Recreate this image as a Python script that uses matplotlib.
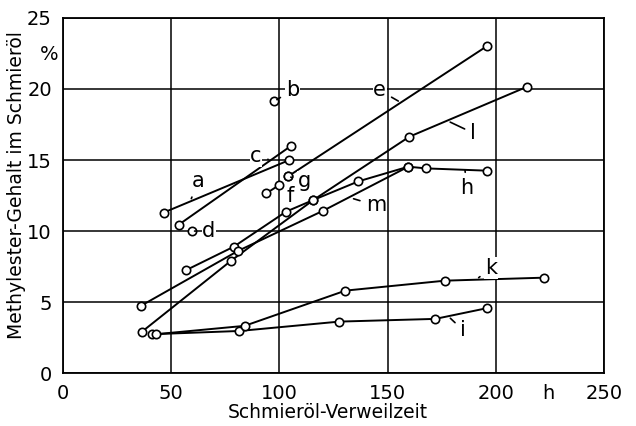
import matplotlib
matplotlib.use("Agg")
import matplotlib.pyplot as plt

# measured points (h, %)
a_x = [46.5, 104.6]
a_y = [11.3, 15.0]
b_x = [97.7]
b_y = [19.15]
c_x = [53.5, 105.4]
c_y = [10.45, 16.0]
d_x = [59.5]
d_y = [10.0]
e_x = [104.0, 195.7]
e_y = [13.85, 23.0]
f_x = [93.9, 100.0]
f_y = [12.65, 13.25]
g_x = [104.0]
g_y = [13.85]
h_x = [57.0, 78.9, 103.1, 115.7, 136.5, 159.5, 167.7, 195.7]
h_y = [7.26, 8.9, 11.37, 12.19, 13.5, 14.53, 14.41, 14.25]
i_x = [41.2, 81.5, 127.7, 172.0, 195.7]
i_y = [2.74, 2.97, 3.63, 3.82, 4.57]
k_x = [42.8, 83.9, 130.5, 176.5, 222.0]
k_y = [2.74, 3.33, 5.81, 6.51, 6.72]
l_x = [36.6, 77.7, 115.7, 160.0, 214.3]
l_y = [2.93, 7.92, 12.19, 16.64, 20.15]
m_x = [35.9, 80.8, 120.3, 159.5]
m_y = [4.73, 8.6, 11.44, 14.53]

series = {"a": (a_x, a_y), "b": (b_x, b_y), "c": (c_x, c_y), "d": (d_x, d_y),
          "e": (e_x, e_y), "f": (f_x, f_y), "g": (g_x, g_y), "h": (h_x, h_y),
          "i": (i_x, i_y), "k": (k_x, k_y), "l": (l_x, l_y), "m": (m_x, m_y)}

x_ticks = [0, 50, 100, 150, 200, 250]
y_ticks = [0, 5, 10, 15, 20, 25]

# label: (point on curve, text position)
labels = {
    "a": ((58.8, 12.1), (62.5, 13.5)),
    "b": ((97.7, 19.15), (106.0, 19.9)),
    "c": ((96.0, 15.0), (89.2, 15.25)),
    "d": ((59.5, 10.0), (67.4, 10.0)),
    "e": ((156.0, 19.05), (146.3, 19.9)),
    "f": (None, (104.9, 12.45)),
    "g": ((104.0, 13.85), (111.5, 13.5)),
    "h": ((185.7, 14.3), (186.5, 13.0)),
    "i": ((178.0, 4.0), (184.6, 3.05)),
    "k": ((191.0, 6.6), (197.7, 7.4)),
    "l": ((177.7, 17.75), (189.5, 16.9)),
    "m": ((133.0, 12.33), (144.6, 11.8)),
}

plt.rcParams['font.family'] = ['DejaVu Sans']
fig = plt.figure(figsize=(6.36, 4.26), dpi=100)
ax = fig.add_axes([0.099, 0.124, 0.851, 0.834])

for name, (xs, ys) in series.items():
    ax.plot(xs, ys, color='black', lw=1.4, marker='o', ms=6, mfc='white',
            mec='black', mew=1.2, zorder=3)

for name, (pt, txt) in labels.items():
    if pt is None:
        ax.text(txt[0], txt[1], name, fontsize=15, ha='center', va='center',
                zorder=5, bbox=dict(fc='white', ec='none', pad=0.5))
        continue
    ax.annotate(name, xy=pt, xytext=txt, fontsize=15, ha='center', va='center',
                zorder=5, bbox=dict(fc='white', ec='none', pad=0.5),
                arrowprops=dict(arrowstyle='-', color='black', lw=1.2,
                                shrinkA=4, shrinkB=2))

ax.set_xlim(0, 250)
ax.set_ylim(0, 25)
ax.set_xticks(x_ticks)
ax.set_yticks(y_ticks)
ax.grid(True, color='black', lw=1.1)
ax.set_axisbelow(True)
ax.tick_params(length=0, labelsize=14, pad=8)
for s in ax.spines.values():
    s.set_linewidth(1.3)

ax.text(224, -0.75, "h", fontsize=14, ha='center', va='top')
ax.text(-2.2, 22.4, "%", fontsize=14, ha='right', va='center')

ax.set_xlabel("Schmieröl-Verweilzeit", fontsize=13.5)
ax.xaxis.set_label_coords(0.49, -0.085)
ax.set_ylabel("Methylester-Gehalt im Schmieröl", fontsize=13.5)
ax.yaxis.set_label_coords(-0.068, 0.53)

fig.savefig("out.png", dpi=100)
